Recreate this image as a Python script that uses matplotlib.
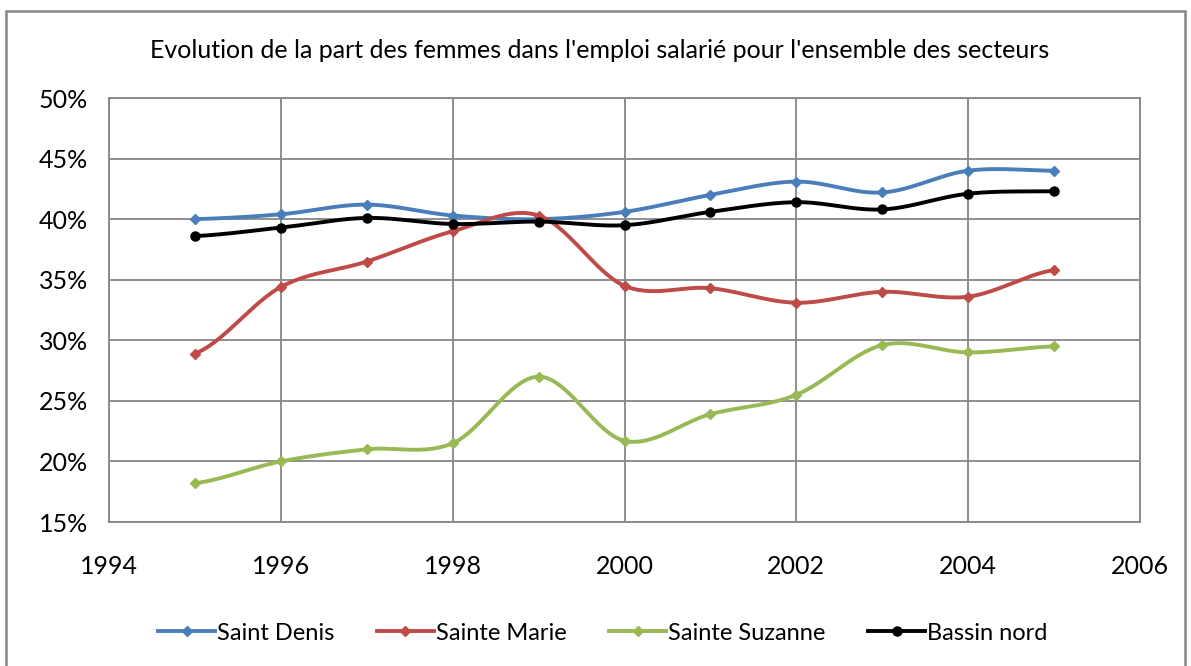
import numpy as np
import matplotlib
matplotlib.use("Agg")
import matplotlib.pyplot as plt
from matplotlib.patches import Rectangle
from matplotlib.ticker import FuncFormatter, MultipleLocator

plt.rcParams['font.family'] = ['Lato', 'DejaVu Sans']

years = [1995, 1996, 1997, 1998, 1999, 2000, 2001, 2002, 2003, 2004, 2005]
saint_denis = [40.0, 40.4, 41.2, 40.3, 40.0, 40.6, 42.0, 43.1, 42.2, 44.0, 44.0]
sainte_marie = [28.9, 34.4, 36.5, 39.0, 40.3, 34.5, 34.3, 33.1, 34.0, 33.6, 35.8]
sainte_suzanne = [18.2, 20.0, 21.0, 21.5, 27.0, 21.7, 23.9, 25.5, 29.6, 29.0, 29.5]
bassin_nord = [38.6, 39.3, 40.1, 39.6, 39.8, 39.5, 40.6, 41.4, 40.8, 42.1, 42.3]

series = [
    ("Saint Denis", saint_denis, "#4a7ebb", "D", 5),
    ("Sainte Marie", sainte_marie, "#be4b48", "D", 5),
    ("Sainte Suzanne", sainte_suzanne, "#98b954", "D", 5),
    ("Bassin nord", bassin_nord, "#000000", "o", 6.5),
]

title = "Evolution de la part des femmes dans l'emploi salarié pour l'ensemble des secteurs"


def smooth(x, y, n=30):
    # Catmull-Rom rendering of the line between data points (Excel "smoothed line")
    x = np.asarray(x, float)
    y = np.asarray(y, float)
    px = np.concatenate([[2 * x[0] - x[1]], x, [2 * x[-1] - x[-2]]])
    py = np.concatenate([[y[0]], y, [y[-1]]])
    xs, ys = [], []
    for i in range(1, len(px) - 2):
        t = np.linspace(0, 1, n, endpoint=False)
        p0, p1, p2, p3 = py[i - 1], py[i], py[i + 1], py[i + 2]
        q0, q1, q2, q3 = px[i - 1], px[i], px[i + 1], px[i + 2]
        c1y = p1 + (p2 - p0) / 6
        c2y = p2 - (p3 - p1) / 6
        c1x = q1 + (q2 - q0) / 6
        c2x = q2 - (q3 - q1) / 6
        b = lambda a, b1, b2, c: (1 - t) ** 3 * a + 3 * (1 - t) ** 2 * t * b1 + 3 * (1 - t) * t ** 2 * b2 + t ** 3 * c
        xs.append(b(q1, c1x, c2x, q2))
        ys.append(b(p1, c1y, c2y, p2))
    xs.append([x[-1]])
    ys.append([y[-1]])
    return np.concatenate(xs), np.concatenate(ys)


W, H = 1191, 666
fig = plt.figure(figsize=(W / 100, H / 100), dpi=100)
ax = fig.add_axes([109 / W, 1 - 522 / H, (1140 - 109) / W, (522 - 98) / H])

fig.patches.append(Rectangle((6 / W, -4 / H), (1185 - 6) / W, (655 + 4) / H,
                             transform=fig.transFigure, fill=False,
                             edgecolor="#868686", linewidth=1.8))

for name, vals, col, mk, ms in series:
    sx, sy = smooth(years, vals)
    ax.plot(sx, sy, color=col, linewidth=2.8, solid_capstyle='round')
    ax.plot(years, vals, linestyle='none', marker=mk, markersize=ms,
            color=col, markeredgecolor=col)
    ax.plot([], [], color=col, linewidth=2.8, marker=mk, markersize=ms, label=name)

ax.set_xlim(1994, 2006)
ax.set_ylim(15, 50)
ax.xaxis.set_major_locator(MultipleLocator(2))
ax.yaxis.set_major_locator(MultipleLocator(5))
ax.yaxis.set_major_formatter(FuncFormatter(lambda v, p: f"{v:.0f}%"))
ax.grid(True, color="#868686", linewidth=1.3)
ax.set_axisbelow(True)
for s in ax.spines.values():
    s.set_color("#868686")
    s.set_linewidth(1.3)
ax.tick_params(axis='both', length=0, labelsize=18, colors='black')
ax.tick_params(axis='y', pad=15)
ax.tick_params(axis='x', pad=24)

fig.text(600 / W, 1 - 50 / H, title, ha='center', va='center', fontsize=18)

handles, labels = [], []
for l in ax.get_lines():
    if l.get_label() and not l.get_label().startswith('_'):
        handles.append(l)
        labels.append(l.get_label())
fig.legend(handles, labels, loc='center', bbox_to_anchor=(603 / W, 1 - 633 / H),
           ncol=4, frameon=False, fontsize=17, handlelength=2.4, handletextpad=0.1,
           columnspacing=1.8)

fig.savefig("out.png", dpi=100)
